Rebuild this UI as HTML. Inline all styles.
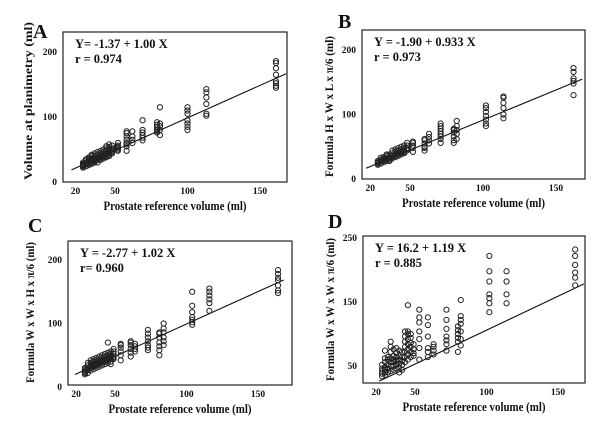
<!DOCTYPE html>
<html><head><meta charset="utf-8"><style>
body{margin:0;background:#fff}
svg{display:block}
text{font-family:"Liberation Serif",serif;font-weight:bold;fill:#111}
</style></head><body>
<svg id="s" width="600" height="425" viewBox="0 0 600 425"></svg>
<script>
// ---- data ----
const groupXA=[28,30,32,34,36,38,40,42,44,46,48,52,58,62,69,79,81,100,113,161];
const groupYA=[[22,24,26,28,30,25,27],[24,27,30,33,28,35],[26,30,34,38,28,36],[30,33,36,40,28,42],[32,36,40,44,34,30],[34,38,42,46,36,30],[36,40,44,48,38,34],[38,42,46,50,40,36],[40,44,48,52,42,38,55],[42,46,50,54,44,40,58],[44,48,52,56,46,50],[48,52,56,60,54,50],[48,55,60,65,70,75,78,58],[60,65,70,78],[64,68,72,76,80,95],[76,80,84,88,92,78],[72,80,86,90,115],[80,85,90,95,105,110,115],[102,105,120,130,138,143],[145,148,152,155,165,175,183,186]];
const groupXB=[28,30,32,34,36,38,40,42,44,46,48,52,60,63,71,80,82,102,114,162];
const groupYB=[[22,24,26,28,25],[24,27,30,33,28],[26,30,34,28,32],[28,32,36,30,38],[30,34,38,32,28],[32,36,40,44,34],[34,38,42,46,36],[36,40,44,48,38],[38,42,46,50,40],[40,44,48,52,42],[44,48,52,56,46],[42,48,52,56,58],[44,50,55,60,62,48],[55,60,65,70],[56,62,66,70,74,78,82,86],[56,60,66,72,76,78],[62,70,76,82,90],[82,86,92,98,104,110,114],[94,100,110,118,126,128],[130,148,152,156,166,172]];
const groupXC=[29,31,33,35,37,39,41,43,45,47,49,54,61,64,73,81,84,104,116,164];
const groupYC=[[20,22,24,26,28,30],[22,26,30,34,38,28],[26,30,34,38,42,32],[28,32,36,40,44,34],[30,34,38,42,46,36],[32,36,40,44,48,38],[34,38,42,46,50,40],[36,40,44,48,52,42],[38,42,46,50,54,44,70],[40,44,48,52,56,46,36],[44,48,52,56,60,46],[42,50,56,62,66,68],[48,54,60,66,70,72],[56,60,64,68],[58,62,66,72,78,84,90],[50,58,64,70,78,84,86],[66,72,78,86,92,100],[98,102,106,110,118,128,150],[120,132,138,144,150,155],[148,152,160,168,172,178,184]];
const groupXD=[27,29,31,33,35,37,39,41,43,45,47,49,53,59,63,72,80,82,102,114,162];
const groupYD=[[34,38,42,46,52],[36,40,44,48,56,62,74],[40,46,52,60,64],[42,50,56,62,72,80,88],[44,50,56,60,66,76],[46,52,58,64,70,78],[40,48,54,60,66,74],[44,52,58,64,72],[56,64,72,80,88,96,104],[60,68,76,84,92,100,104,145],[64,72,80,86,94,100],[66,70,76,84],[60,78,92,104,118,126,138],[64,72,78,96,114,126],[68,74,80,84],[74,84,90,96,108,122,138],[72,88,94,100,106,112],[82,92,104,116,122,128,153],[134,148,156,162,182,198,222],[148,162,182,198],[176,188,196,208,222,232]];
const intercepts=[-1.37,-1.90,-2.77,0];
const slopes=[1.00,0.933,1.02,1.06];
const yTicksA=[0,100,200],yTicksD=[50,150,250];
const xTicks=[20,50,100,150];
const letters=["A","B","C","D"];
const eqs=["Y= -1.37 +  1.00 X","Y = -1.90 + 0.933 X","Y = -2.77 + 1.02 X","Y = 16.2 + 1.19 X"];
const rs=["r = 0.974","r = 0.973","r= 0.960","r = 0.885"];
const yTitles=["Volume at planimetry (ml)","Formula H x W x L x \u03c0/6 (ml)","Formula W x W x H x \u03c0/6 (ml)","Formula W x W x W x \u03c0/6 (ml)"];
// ---- layout ----
const P=[
 {bx:63,by:32,bw:224,bh:150,x50:115,kx:1.45,y0v:0,y0p:182,ky:0.65,yt:yTicksA,lx:33,ly:38,line:[20,168],tx:32,tl:158},
 {bx:362,by:30,bw:223,bh:149,x50:410,kx:1.46,y0v:0,y0p:179,ky:0.645,yt:yTicksA,lx:338,ly:28,line:[20,168],tx:333,tl:141},
 {bx:68,by:241,bw:224,bh:144,x50:115,kx:1.43,y0v:0,y0p:387,ky:0.635,yt:yTicksA,lx:28,ly:232,line:[22,168],tx:34,tl:141},
 {bx:363,by:236,bw:222,bh:147,x50:415,kx:1.43,y0v:50,y0p:366,ky:0.64,yt:yTicksD,lx:328,ly:228,line:[25,168],tx:334,tl:143}
];
const GX=[groupXA,groupXB,groupXC,groupXD],GY=[groupYA,groupYB,groupYC,groupYD];
const s=document.getElementById('s');const NS='http://www.w3.org/2000/svg';
function mk(t,a,txt){const e=document.createElementNS(NS,t);for(const k in a)e.setAttribute(k,a[k]);if(txt!=null)e.textContent=txt;s.appendChild(e);return e;}
P.forEach((p,i)=>{
 const X=v=>p.x50+(v-50)*p.kx, Y=v=>p.y0p-(v-p.y0v)*p.ky;
 const L=letters[i].toLowerCase();
 let e=mk('rect',{x:p.bx,y:p.by,width:p.bw,height:p.bh,fill:'none',stroke:'#222','stroke-width':1.2});
 
 
 e=mk('text',{x:p.lx,y:p.ly,'font-size':20},letters[i]);
 
 
 e=mk('text',{x:p.bx+12,y:p.by+16,'font-size':12.5},eqs[i]);
 
 
 e=mk('text',{x:p.bx+12,y:p.by+31,'font-size':12.5},rs[i]);
 
 
 p.yt.forEach(t=>{e=mk('text',{x:p.bx-6,y:Y(t)+3,'font-size':9.5,'text-anchor':'end'},t);
  
  });
 xTicks.forEach(t=>{e=mk('text',{x:X(t)+(t==20?4:0),y:p.by+p.bh+12,'font-size':9.5,'text-anchor':'middle'},t);
  
  });
 e=mk('text',{x:p.bx+p.bw/2,y:p.by+p.bh+28,'font-size':13,'text-anchor':'middle',textLength:143,lengthAdjust:'spacingAndGlyphs'},'Prostate reference volume (ml)');
 
 
 const ty=p.by+p.bh-2;
 e=mk('text',{x:p.tx,y:ty,'font-size':12,textLength:p.tl,lengthAdjust:'spacingAndGlyphs',transform:`rotate(-90 ${p.tx} ${ty})`},yTitles[i]);
 
 
 const a=p.line[0],b=p.line[1];
 e=mk('line',{x1:X(a),y1:Y(intercepts[i]+slopes[i]*a),x2:X(b),y2:Y(intercepts[i]+slopes[i]*b),stroke:'#111','stroke-width':1.1});
 
 
 GX[i].forEach((gx,j)=>GY[i][j].forEach(v=>{
  e=mk('circle',{cx:X(gx),cy:Y(v),r:2.6,fill:'none',stroke:'#222','stroke-width':1});
  
  
 }));
});
</script>
</body></html>
